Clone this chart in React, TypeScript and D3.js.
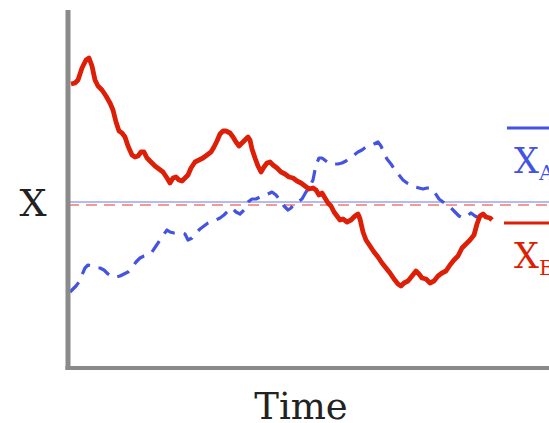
import React from "react";
import * as d3 from "d3";

// Time units and X units (arbitrary)
const redTime = [3,7,10,14,18,21,24,27,30,34,38,42,45,48,51,54,57,60,64,67,70,73,76,79,83,87,91,95,99,102,105,108,111,114,117,120,123,127,131,135,139,143,146,149,152,155,158,162,165,168,171,174,177,180,182,184,187,190,193,196,199,202,205,209,213,217,221,225,229,233,237,241,245,248,251,254,257,260,263,266,269,272,275,279,283,287,290,292,295,298,302,306,310,314,318,322,326,330,333,336,340,344,348,351,354,358,362,366,370,374,378,382,386,390,394,398,402,406,409,412,415,418,422,424];
const redValues = [284,285,288,300,308,310,302,288,282,278,272,265,258,246,237,235,231,222,213,211,212,216,216,210,206,202,199,196,190,185,190,191,188,187,190,193,200,206,208,210,213,216,221,227,234,237,237,235,231,226,222,225,228,231,228,219,210,202,196,201,205,206,203,200,196,194,191,190,187,185,182,179,180,178,173,175,170,165,162,156,152,148,149,146,148,152,154,149,136,128,122,116,111,105,100,95,89,84,82,85,87,92,97,94,90,89,85,87,92,95,97,103,108,112,120,124,128,133,144,152,154,151,150,148];

const blueTime = [2,5,8,11,14,17,20,24,28,32,36,40,44,48,52,56,60,64,68,72,76,80,84,88,92,96,99,102,106,110,114,117,120,124,128,132,136,140,144,148,152,156,160,164,168,172,176,180,184,188,192,196,200,204,208,212,216,220,223,226,230,234,238,242,245,248,251,254,258,262,266,270,274,278,282,286,290,294,298,302,306,310,313,316,319,323,327,331,335,339,343,347,351,355,359,363,367,371,375,379,383,387,391,395,399,403,407,411,415,418];
const blueValues = [76,79,82,86,93,100,103,102,100,100,98,94,91,91,92,94,96,100,106,110,112,113,116,122,128,134,138,136,135,135,135,134,128,130,135,139,142,145,147,148,150,153,157,160,156,154,158,166,169,169,171,172,174,176,173,168,162,158,160,164,166,169,176,182,188,203,210,210,207,204,204,204,205,207,210,213,216,218,221,222,224,226,222,215,209,204,198,193,188,185,183,181,180,179,180,180,175,169,166,163,160,156,152,150,152,155,152,150,153,155];

const meanBlue = 166;
const meanRed = 163;

const legendLabels = ["X", "X"];
const legendSubs = ["A", "B"];
const xAxisLabel = "Time";
const yAxisLabel = "X";

const W = 549;
const H = 423;

export default function App() {
  const x = d3.scaleLinear().domain([0, 480]).range([68, 548]);
  const y = d3.scaleLinear().domain([0, 358]).range([368, 10]);

  const redData = redTime.map((t, i) => [t, redValues[i]] as [number, number]);
  const blueData = blueTime.map((t, i) => [t, blueValues[i]] as [number, number]);

  const line = d3
    .line<[number, number]>()
    .x((d) => x(d[0]))
    .y((d) => y(d[1]))
    .curve(d3.curveLinear);

  const serif = "'DejaVu Serif', 'Liberation Serif', serif";
  const red = "#dd1f08";
  const blue = "#4453e0";

  return (
    <svg
      width={W}
      height={H}
      style={{ position: "absolute", left: 0, top: 0, background: "#fff" }}
    >
      {/* mean lines */}
      <line x1={x(0)} x2={W} y1={y(meanBlue)} y2={y(meanBlue)} stroke="#9aa3f0" strokeWidth={1.3} />
      <line
        x1={x(0)}
        x2={W}
        y1={y(meanRed)}
        y2={y(meanRed)}
        stroke="#f07a70"
        strokeWidth={1.6}
        strokeDasharray="11,7"
      />

      {/* series */}
      <path
        d={line(blueData) || ""}
        fill="none"
        stroke={blue}
        strokeWidth={3.2}
        strokeDasharray="13,9"
        strokeLinejoin="round"
      />
      <path
        d={line(redData) || ""}
        fill="none"
        stroke={red}
        strokeWidth={4.8}
        strokeLinejoin="round"
      />

      {/* axes */}
      <line x1={x(0)} x2={x(0)} y1={y(358)} y2={y(0) + 2} stroke="#8a8a8a" strokeWidth={5} />
      <line x1={x(0) - 2.5} x2={W} y1={y(0)} y2={y(0)} stroke="#8a8a8a" strokeWidth={4} />

      {/* axis labels */}
      <text
        x={33}
        y={216}
        textAnchor="middle"
        fontFamily={serif}
        fontSize={38}
        fill="#222"
      >
        {yAxisLabel}
      </text>
      <text
        x={301}
        y={419}
        textAnchor="middle"
        fontFamily={serif}
        fontSize={37}
        fill="#222"
      >
        {xAxisLabel}
      </text>

      {/* legend */}
      <line x1={507} x2={W} y1={128} y2={128} stroke={blue} strokeWidth={3} />
      <text x={514} y={173} fontFamily={serif} fontSize={35} fill={blue}>
        {legendLabels[0]}
        <tspan fontSize={21} dy={7}>{legendSubs[0]}</tspan>
      </text>
      <line x1={504} x2={W} y1={223} y2={223} stroke={red} strokeWidth={3} />
      <text x={514} y={268} fontFamily={serif} fontSize={35} fill={red}>
        {legendLabels[1]}
        <tspan fontSize={21} dy={7}>{legendSubs[1]}</tspan>
      </text>
    </svg>
  );
}
